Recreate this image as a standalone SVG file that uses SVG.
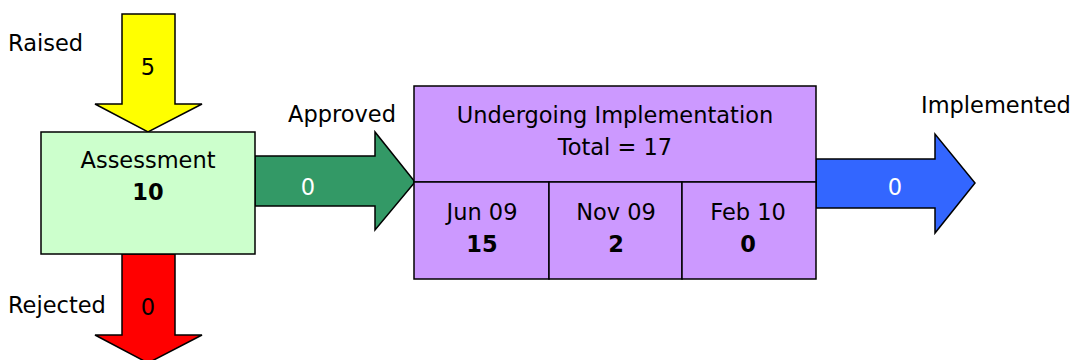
<svg xmlns="http://www.w3.org/2000/svg" width="1076" height="360" viewBox="0 0 1076 360">
<style>
text{font-family:"DejaVu Sans",Verdana,sans-serif;font-size:22.5px;fill:#000}
.c{text-anchor:middle}
.b{font-weight:bold}
.w{fill:#fff}
.s{stroke:#000;stroke-width:1.5;stroke-linejoin:miter}
</style>
<rect width="1076" height="360" fill="#fff"/>
<g id="connectors">
<g id="raised">
<polygon class="s" fill="#ffff00" points="122,14 175,14 175,104 202,104 148,132 95,104 122,104"/>
<text class="c" x="148" y="75">5</text>
<text x="8" y="51">Raised</text>
</g>
<g id="rejected">
<polygon class="s" fill="#ff0000" points="122,254 175,254 175,335 202,335 148,363 95,335 122,335"/>
<text class="c" x="148" y="315">0</text>
<text x="8" y="313">Rejected</text>
</g>
<g id="approved">
<polygon class="s" fill="#339966" points="255,156 375,156 375,132 415,182 375,230 375,206 255,206"/>
<text class="c w" x="308" y="195">0</text>
<text x="288" y="122">Approved</text>
</g>
<g id="implemented">
<polygon class="s" fill="#3366ff" points="816,159 935,159 935,134 975,183 935,233 935,208 816,208"/>
<text class="c w" x="895" y="195">0</text>
<text x="921" y="113">Implemented</text>
</g>
</g>
<g id="assessment">
<rect class="s" x="41" y="132" width="214" height="122" fill="#ccffcc"/>
<text class="c" x="148" y="168">Assessment</text>
<text class="c b" x="148" y="200">10</text>
</g>
<g id="implementation">
<rect class="s" x="414" y="86" width="402" height="96" fill="#cc99ff"/>
<text class="c" x="615" y="123">Undergoing Implementation</text>
<text class="c" x="615" y="155">Total = 17</text>
</g>
<g id="jun09">
<rect class="s" x="414" y="182" width="135" height="97" fill="#cc99ff"/>
<text class="c" x="482" y="220">Jun 09</text>
<text class="c b" x="482" y="252">15</text>
</g>
<g id="nov09">
<rect class="s" x="549" y="182" width="133" height="97" fill="#cc99ff"/>
<text class="c" x="616" y="220">Nov 09</text>
<text class="c b" x="616" y="252">2</text>
</g>
<g id="feb10">
<rect class="s" x="682" y="182" width="134" height="97" fill="#cc99ff"/>
<text class="c" x="748" y="220">Feb 10</text>
<text class="c b" x="748" y="252">0</text>
</g>
</svg>
